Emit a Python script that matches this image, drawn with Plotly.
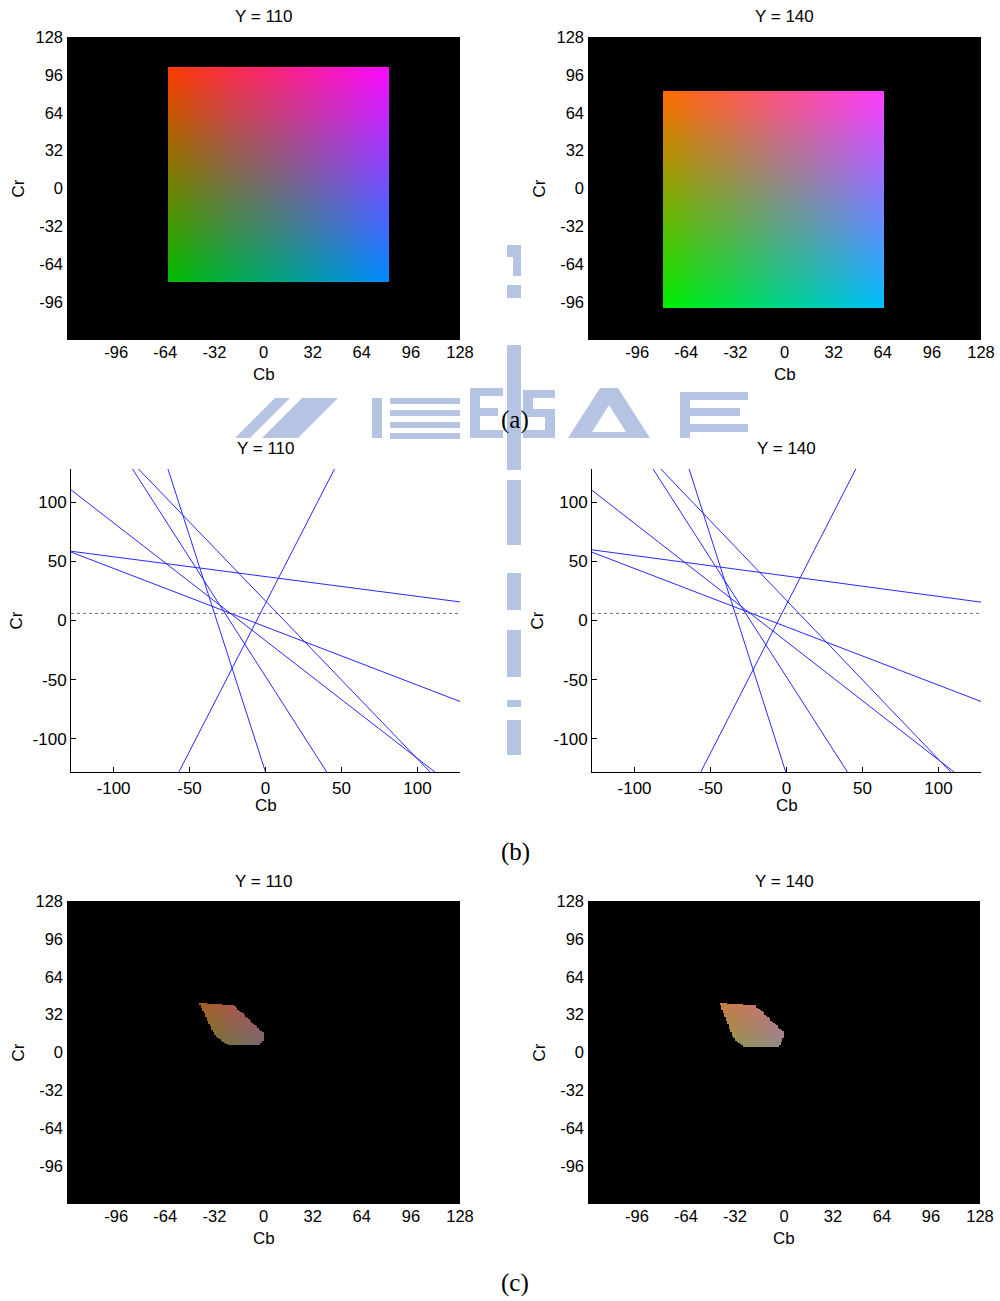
import numpy as np
import plotly.graph_objects as go

W, H = 1000, 1301

# ---------------- data ----------------
Y_LEVELS = [110, 140]
PANEL_TITLES = ["Y = 110", "Y = 140"]
CAPTIONS = ["(a)", "(b)", "(c)"]

# BT.601 YCbCr -> RGB coefficients
COEF_R_CR = 1.402
COEF_G_CB = -0.344
COEF_G_CR = -0.714
COEF_B_CB = 1.772

# (a) extent of the coloured square (Cb range, Cr range)
SQUARE_CB_110 = [-62, 82]
SQUARE_CR_110 = [-79, 103]
SQUARE_CB_140 = [-79, 65]
SQUARE_CR_140 = [-101, 82]

# (b) boundary lines: start (Cb, Cr) and end (Cb, Cr)
LINE_CB0_110 = [-128, -128, -128, -57.0, -64.2, -87.5, -83.6]
LINE_CR0_110 = [58.5, 57.8, 110.4, -128, 128, 128, 128]
LINE_CB1_110 = [128, 128, 111.5, 45.4, 0.0, 40.3, 108.3]
LINE_CR1_110 = [15.7, -68.4, -128, 128, -128, -128, -128]

LINE_CB0_140 = [-128, -128, -128, -56.4, -64.1, -87.8, -82.7]
LINE_CR0_140 = [59.7, 57.7, 110.0, -128, 128, 128, 128]
LINE_CB1_140 = [128, 128, 110.3, 45.6, -0.5, 40.1, 108.0]
LINE_CR1_140 = [15.5, -68.4, -128, 128, -128, -128, -128]

HLINE_CR = 6.0

# (c) resulting region outlines (Cb, Cr)
POLY_CB_110 = [-42.3, -19.2, 0.4, 0.2, -2.2, -21.4, -24.6, -28.3, -32.2, -35.4, -38.4, -40.2]
POLY_CR_110 = [42.0, 39.7, 15.8, 12.0, 6.2, 6.2, 7.0, 10.4, 15.8, 24.2, 32.7, 36.9]
POLY_CB_140 = [-42.2, -18.6, 0.0, -0.5, -2.6, -26.6, -31.0, -34.2, -37.5, -40.3]
POLY_CR_140 = [42.0, 39.7, 17.1, 12.0, 5.5, 5.5, 8.9, 15.8, 27.0, 35.5]

IMG_TICKS = [-96, -64, -32, 0, 32, 64, 96, 128]
IMG_TICKTEXT = ["-96", "-64", "-32", "0", "32", "64", "96", "128"]
LINE_TICKS = [-100, -50, 0, 50, 100]
LINE_TICKTEXT = ["-100", "-50", "0", "50", "100"]

# ---------------- helpers ----------------
grid = np.arange(-127.5, 128, 1.0)
CB, CR = np.meshgrid(grid, grid)  # row 0 = lowest Cr


def ycbcr_to_rgb(y):
    r = y + COEF_R_CR * CR
    g = y + COEF_G_CB * CB + COEF_G_CR * CR
    b = y + COEF_B_CB * CB
    return np.clip(np.round(np.stack([r, g, b], -1)), 0, 255).astype(np.uint8)


def in_polygon(px, py, vx, vy):
    inside = np.zeros(px.shape, bool)
    n = len(vx)
    j = n - 1
    for i in range(n):
        xi, yi, xj, yj = vx[i], vy[i], vx[j], vy[j]
        if yi != yj:
            cond = ((yi > py) != (yj > py)) & (px < (xj - xi) * (py - yi) / (yj - yi) + xi)
            inside ^= cond
        j = i
    return inside


def square_img(y, cbr, crr):
    rgb = ycbcr_to_rgb(y)
    m = (CB >= cbr[0]) & (CB <= cbr[1]) & (CR >= crr[0]) & (CR <= crr[1])
    rgb[~m] = 0
    return rgb


def poly_img(y, vx, vy):
    rgb = ycbcr_to_rgb(y)
    m = in_polygon(CB, CR, vx, vy)
    rgb[~m] = 0
    return rgb


def X(p):
    return p / W


def Yp(p):
    return 1 - p / H


FONT = "Liberation Sans, Arial, Helvetica, sans-serif"
SERIF = "Liberation Serif, Times New Roman, serif"

fig = go.Figure()

images = [
    square_img(Y_LEVELS[0], SQUARE_CB_110, SQUARE_CR_110),
    square_img(Y_LEVELS[1], SQUARE_CB_140, SQUARE_CR_140),
    None, None,
    poly_img(Y_LEVELS[0], POLY_CB_110, POLY_CR_110),
    poly_img(Y_LEVELS[1], POLY_CB_140, POLY_CR_140),
]

# panel pixel boxes: (x0, x1, y0, y1)
BOXES = [
    (67, 460, 37, 340), (588, 981, 37, 340),
    (71, 460, 469, 772), (592, 981, 469, 772),
    (67, 460, 901, 1204), (588, 980, 901, 1204),
]

for k in [0, 1, 4, 5]:
    ax = "" if k == 0 else str(k + 1)
    fig.add_trace(go.Image(z=images[k].tolist(), x0=-127.5, dx=1, y0=-127.5, dy=1,
                           colormodel="rgb", hoverinfo="skip",
                           xaxis="x" + ax, yaxis="y" + ax))

line_sets = [
    (LINE_CB0_110, LINE_CR0_110, LINE_CB1_110, LINE_CR1_110),
    (LINE_CB0_140, LINE_CR0_140, LINE_CB1_140, LINE_CR1_140),
]
for idx, k in enumerate([2, 3]):
    ax = str(k + 1)
    cb0, cr0, cb1, cr1 = line_sets[idx]
    for a, b, c, d in zip(cb0, cr0, cb1, cr1):
        fig.add_trace(go.Scatter(x=[a, c], y=[b, d], mode="lines",
                                 line=dict(color="rgb(40,40,255)", width=1),
                                 hoverinfo="skip", showlegend=False,
                                 xaxis="x" + ax, yaxis="y" + ax))
    fig.add_trace(go.Scatter(x=[-128, 128], y=[HLINE_CR, HLINE_CR], mode="lines",
                             line=dict(color="rgb(70,70,90)", width=0.8, dash="dot"),
                             hoverinfo="skip", showlegend=False,
                             xaxis="x" + ax, yaxis="y" + ax))

layout = dict(width=W, height=H, autosize=False,
              margin=dict(l=0, r=0, t=0, b=0, pad=0, autoexpand=False),
              paper_bgcolor="white", plot_bgcolor="white", showlegend=False,
              font=dict(family=FONT, color="black"))

for k, (x0, x1, y0, y1) in enumerate(BOXES):
    sfx = "" if k == 0 else str(k + 1)
    is_line = k in (2, 3)
    ticks = LINE_TICKS if is_line else IMG_TICKS
    ttext = LINE_TICKTEXT if is_line else IMG_TICKTEXT
    fs = 17 if is_line else 16.5
    xa = dict(domain=[X(x0), X(x1)], range=[-128, 128], autorange=False,
              tickvals=ticks, ticktext=ttext, showgrid=False, zeroline=False,
              tickfont=dict(size=fs, family=FONT, color="black"),
              anchor="y" + sfx, fixedrange=True, automargin=False)
    ya = dict(domain=[Yp(y1), Yp(y0)], range=[-128, 128], autorange=False,
              tickvals=ticks, ticktext=ttext, showgrid=False, zeroline=False,
              tickfont=dict(size=fs, family=FONT, color="black"),
              anchor="x" + sfx, fixedrange=True, scaleanchor=False, constrain="range",
              automargin=False)
    if is_line:
        for a in (xa, ya):
            a.update(showline=True, linecolor="black", linewidth=1,
                     ticks="inside", ticklen=5, tickcolor="black", tickwidth=1)
        xa["ticklabelstandoff"] = 1
    else:
        for a in (xa, ya):
            a.update(showline=False, ticks="")
        ya["ticklabelstandoff"] = 3
    layout["xaxis" + sfx] = xa
    layout["yaxis" + sfx] = ya

ann = []
row_title_y = [17, 449, 881]
row_cb_y = [374, 806, 1238]
for k, (x0, x1, y0, y1) in enumerate(BOXES):
    row = k // 2
    col = k % 2
    cx = (x0 + x1) / 2
    ann.append(dict(text=PANEL_TITLES[col], x=X(cx), y=Yp(row_title_y[row]),
                    xref="paper", yref="paper", showarrow=False,
                    xanchor="center", yanchor="middle", font=dict(size=17, family=FONT)))
    ann.append(dict(text="Cb", x=X(cx), y=Yp(row_cb_y[row]),
                    xref="paper", yref="paper", showarrow=False,
                    xanchor="center", yanchor="middle", font=dict(size=17, family=FONT)))
    crx = (18 if col == 0 else 539) if row != 1 else (16 if col == 0 else 537)
    ann.append(dict(text="Cr", x=X(crx), y=Yp((y0 + y1) / 2),
                    xref="paper", yref="paper", showarrow=False, textangle=-90,
                    xanchor="center", yanchor="middle", font=dict(size=17, family=FONT)))

for t, cy in zip(CAPTIONS, [420, 852, 1283]):
    ann.append(dict(text=t, x=X(515), y=Yp(cy), xref="paper", yref="paper",
                    showarrow=False, xanchor="center", yanchor="middle",
                    font=dict(size=25, family=SERIF, color="black")))
layout["annotations"] = ann

# faint watermark fragments visible in the gaps
WM = "rgb(182,196,227)"
shapes = []


def rect(a, b, c, d):
    shapes.append(dict(type="rect", xref="paper", yref="paper",
                       x0=X(a), x1=X(c), y0=Yp(d), y1=Yp(b),
                       fillcolor=WM, line=dict(width=0), layer="below"))


def poly(pts, color=WM):
    path = "M " + " L ".join(f"{X(p[0]):.5f},{Yp(p[1]):.5f}" for p in pts) + " Z"
    shapes.append(dict(type="path", xref="paper", yref="paper", path=path,
                       fillcolor=color, line=dict(width=0), layer="below"))


# vertical column
rect(507, 245, 521, 257)
rect(513, 257, 521, 276)
rect(507, 285, 521, 298)
rect(507, 345, 521, 470)
rect(507, 480, 521, 545)
rect(507, 573, 521, 610)
rect(507, 630, 521, 677)
rect(507, 700, 521, 707)
rect(507, 720, 521, 755)
# horizontal word band
poly([(235, 438), (250, 438), (290, 398), (275, 398)])
poly([(262, 438), (298, 438), (338, 398), (302, 398)])
rect(372, 398, 382, 438)
for yy in (398, 410, 422, 433):
    rect(390, yy, 460, yy + 6)
rect(470, 388, 480, 438)
rect(470, 388, 503, 396)
rect(470, 408, 498, 416)
rect(470, 430, 503, 438)
rect(525, 390, 555, 398)
rect(523, 390, 533, 414)
rect(525, 409, 555, 417)
rect(545, 413, 555, 438)
rect(523, 430, 555, 438)
poly([(568, 438), (600, 388), (618, 388), (650, 438)])
poly([(592, 432), (609, 405), (626, 432)], color="white")
rect(680, 392, 690, 438)
rect(685, 392, 748, 400)
rect(685, 408, 740, 416)
rect(685, 424, 748, 432)
layout["shapes"] = shapes

fig.update_layout(**layout)
fig.write_html("out.html",
               config={"displayModeBar": False, "responsive": False},
               post_script="document.body.style.margin='0';document.body.style.padding='0';"
                           "document.body.style.overflow='hidden';"
                           "document.documentElement.style.overflow='hidden';")
